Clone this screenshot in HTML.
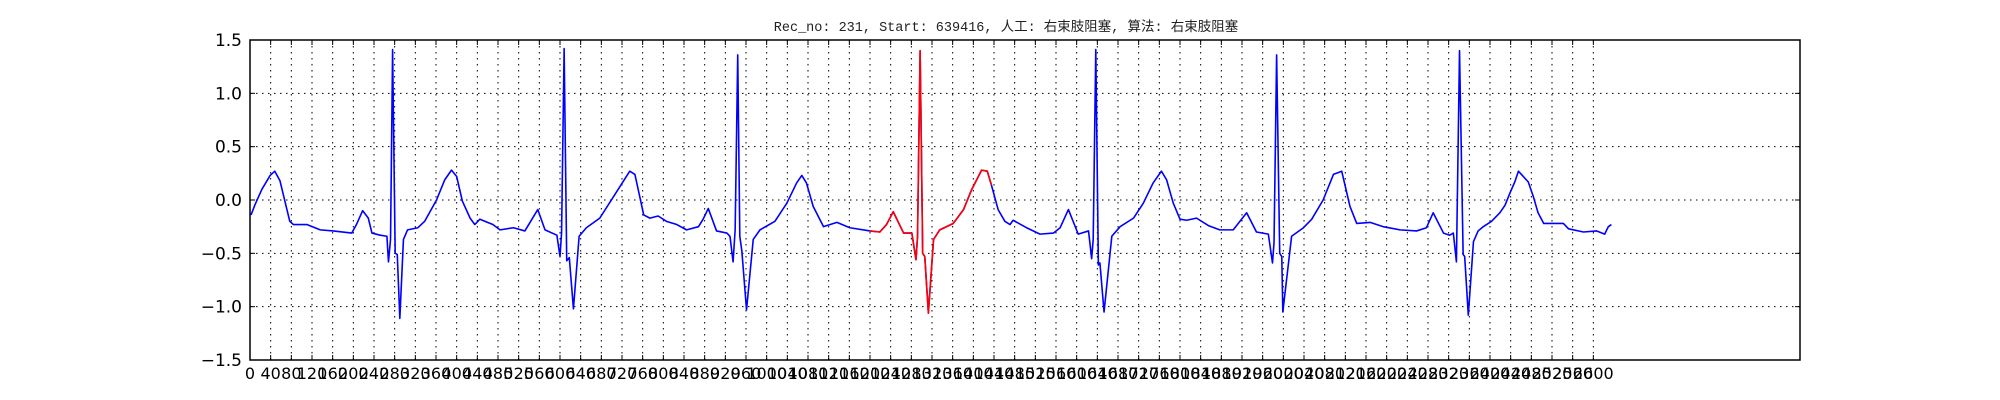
<!DOCTYPE html>
<html><head><meta charset="utf-8"><style>
html,body{margin:0;padding:0;background:#fff;}
svg{display:block;}
</style></head><body>
<svg id="chart" width="2000" height="400" viewBox="0 0 2000 400" xmlns="http://www.w3.org/2000/svg">
<rect x="0" y="0" width="2000" height="400" fill="#fff"/>
<text x="1006" y="31" text-anchor="middle" font-family="'Liberation Mono','Noto Sans CJK SC',monospace" font-size="13.5" fill="#222">Rec_no: 231, Start: 639416, 人工: 右束肢阻塞, 算法: 右束肢阻塞</text>
<g id="grid"></g>
<g id="series"></g>
<rect x="250" y="40" width="1550" height="320" fill="none" stroke="#000" stroke-width="1.5"/>
<g id="ticks"></g>
</svg>
<script>
const samples = [2,10,23,39,48,58,77,84,110,136,161,197,206,218,229,236,252,265,268,272,276,281,285,290,297,305,325,338,361,377,390,400,411,426,435,445,470,484,510,532,557,571,594,600,603,608,613,618,626,637,651,677,706,735,745,762,774,790,806,826,845,868,877,887,903,923,929,935,939,944,948,952,961,974,987,1016,1039,1058,1068,1077,1090,1110,1136,1161,1200,1219,1232,1245,1265,1281,1289,1292,1297,1302,1306,1313,1323,1335,1361,1381,1397,1416,1427,1435,1448,1461,1471,1477,1503,1529,1555,1568,1584,1603,1623,1629,1632,1637,1642,1645,1653,1668,1684,1710,1729,1748,1764,1774,1787,1800,1813,1832,1855,1877,1903,1929,1948,1971,1979,1982,1987,1993,1997,1999,2016,2039,2055,2077,2097,2113,2129,2142,2168,2193,2226,2258,2277,2290,2310,2322,2329,2335,2341,2348,2351,2358,2368,2377,2387,2403,2419,2429,2439,2448,2455,2474,2484,2493,2504,2516,2542,2552,2581,2606,2622,2629,2635];
const values = [-0.14,-0.04,0.10,0.23,0.27,0.18,-0.20,-0.23,-0.23,-0.28,-0.29,-0.31,-0.23,-0.10,-0.17,-0.31,-0.33,-0.34,-0.58,-0.37,1.41,-0.50,-0.51,-1.11,-0.37,-0.28,-0.26,-0.20,0.0,0.19,0.28,0.22,-0.01,-0.17,-0.23,-0.18,-0.23,-0.28,-0.26,-0.29,-0.09,-0.28,-0.33,-0.53,-0.31,1.42,-0.57,-0.54,-1.02,-0.34,-0.26,-0.17,0.05,0.27,0.24,-0.14,-0.17,-0.15,-0.20,-0.23,-0.28,-0.25,-0.18,-0.08,-0.29,-0.31,-0.34,-0.58,-0.28,1.36,-0.34,-0.48,-1.03,-0.37,-0.28,-0.20,-0.03,0.16,0.23,0.16,-0.06,-0.25,-0.21,-0.26,-0.29,-0.30,-0.23,-0.11,-0.31,-0.31,-0.56,-0.34,1.40,-0.50,-0.53,-1.06,-0.37,-0.28,-0.22,-0.09,0.10,0.28,0.27,0.14,-0.09,-0.20,-0.23,-0.19,-0.26,-0.32,-0.31,-0.26,-0.09,-0.32,-0.29,-0.55,-0.37,1.41,-0.61,-0.59,-1.05,-0.34,-0.25,-0.17,-0.03,0.16,0.27,0.19,-0.03,-0.18,-0.19,-0.17,-0.24,-0.28,-0.28,-0.12,-0.30,-0.32,-0.59,-0.40,1.36,-0.50,-0.53,-1.05,-0.34,-0.26,-0.18,0.0,0.24,0.27,-0.06,-0.22,-0.21,-0.25,-0.28,-0.29,-0.26,-0.12,-0.31,-0.33,-0.31,-0.58,1.40,-0.51,-0.53,-1.08,-0.39,-0.29,-0.25,-0.20,-0.12,-0.05,0.07,0.17,0.27,0.17,0.03,-0.12,-0.22,-0.22,-0.22,-0.27,-0.30,-0.29,-0.32,-0.25,-0.23];
const redRange = [1200, 1435];
const xTicks = Array.from({length: 66}, (_, i) => i * 40);
const yTicks = [-1.5, -1.0, -0.5, 0.0, 0.5, 1.0, 1.5];
const yTickLabels = ["\u22121.5", "\u22121.0", "\u22120.5", "0.0", "0.5", "1.0", "1.5"];

const NS = "http://www.w3.org/2000/svg";
const X0 = 250, X1 = 1800, Y0 = 360, Y1 = 40;
const xMax = 3000, yMin = -1.5, yMax = 1.5;
function xs(s){ return X0 + (s / xMax) * (X1 - X0); }
function ys(v){ return Y0 - (v - yMin) / (yMax - yMin) * (Y0 - Y1); }

const grid = document.getElementById('grid');
const ticks = document.getElementById('ticks');
const series = document.getElementById('series');
function mk(tag, attrs){ const e = document.createElementNS(NS, tag); for (const k in attrs) e.setAttribute(k, attrs[k]); return e; }

xTicks.forEach(t => {
  const x = xs(t);
  const g = mk('line', {x1:x, x2:x, y1:Y1, y2:Y0, stroke:'#000', 'stroke-width':1, 'stroke-dasharray':'1.5,4.5'});
  
  
  grid.appendChild(g);
  const tb = mk('line', {x1:x, x2:x, y1:Y0, y2:Y0-5, stroke:'#000', 'stroke-width':1});
  
  
  ticks.appendChild(tb);
  const tt = mk('line', {x1:x, x2:x, y1:Y1, y2:Y1+5, stroke:'#000', 'stroke-width':1});
  
  
  ticks.appendChild(tt);
  const lb = mk('text', {x:x, y:Y0+19, 'text-anchor':'middle', 'font-family':"'DejaVu Sans','Liberation Sans',sans-serif", 'font-size':16, fill:'#000'});
  lb.textContent = String(t);
  
  
  ticks.appendChild(lb);
});
yTicks.forEach((t, i) => {
  const y = ys(t);
  const g = mk('line', {x1:X0, x2:X1, y1:y, y2:y, stroke:'#000', 'stroke-width':1, 'stroke-dasharray':'1.5,4.5'});
  
  
  grid.appendChild(g);
  const tl = mk('line', {x1:X0, x2:X0+5, y1:y, y2:y, stroke:'#000', 'stroke-width':1});
  
  
  ticks.appendChild(tl);
  const tr = mk('line', {x1:X1, x2:X1-5, y1:y, y2:y, stroke:'#000', 'stroke-width':1});
  
  
  ticks.appendChild(tr);
  const lb = mk('text', {x:X0-8, y:y+6, 'text-anchor':'end', 'font-family':"'DejaVu Sans','Liberation Sans',sans-serif", 'font-size':17, fill:'#000'});
  lb.textContent = yTickLabels[i];
  
  
  ticks.appendChild(lb);
});

const allPts = samples.map((s, i) => xs(s).toFixed(2) + ',' + ys(values[i]).toFixed(2)).join(' ');
const blue = mk('polyline', {points: allPts, fill:'none', stroke:'#0000ff', 'stroke-width':1.6, 'stroke-linejoin':'round'});


series.appendChild(blue);
const redPts = samples.map((s, i) => [s, values[i]]).filter(p => p[0] >= redRange[0] && p[0] <= redRange[1])
  .map(p => xs(p[0]).toFixed(2) + ',' + ys(p[1]).toFixed(2)).join(' ');
const red = mk('polyline', {points: redPts, fill:'none', stroke:'#ff0000', 'stroke-width':1.6, 'stroke-linejoin':'round'});


series.appendChild(red);
</script>
</body></html>
